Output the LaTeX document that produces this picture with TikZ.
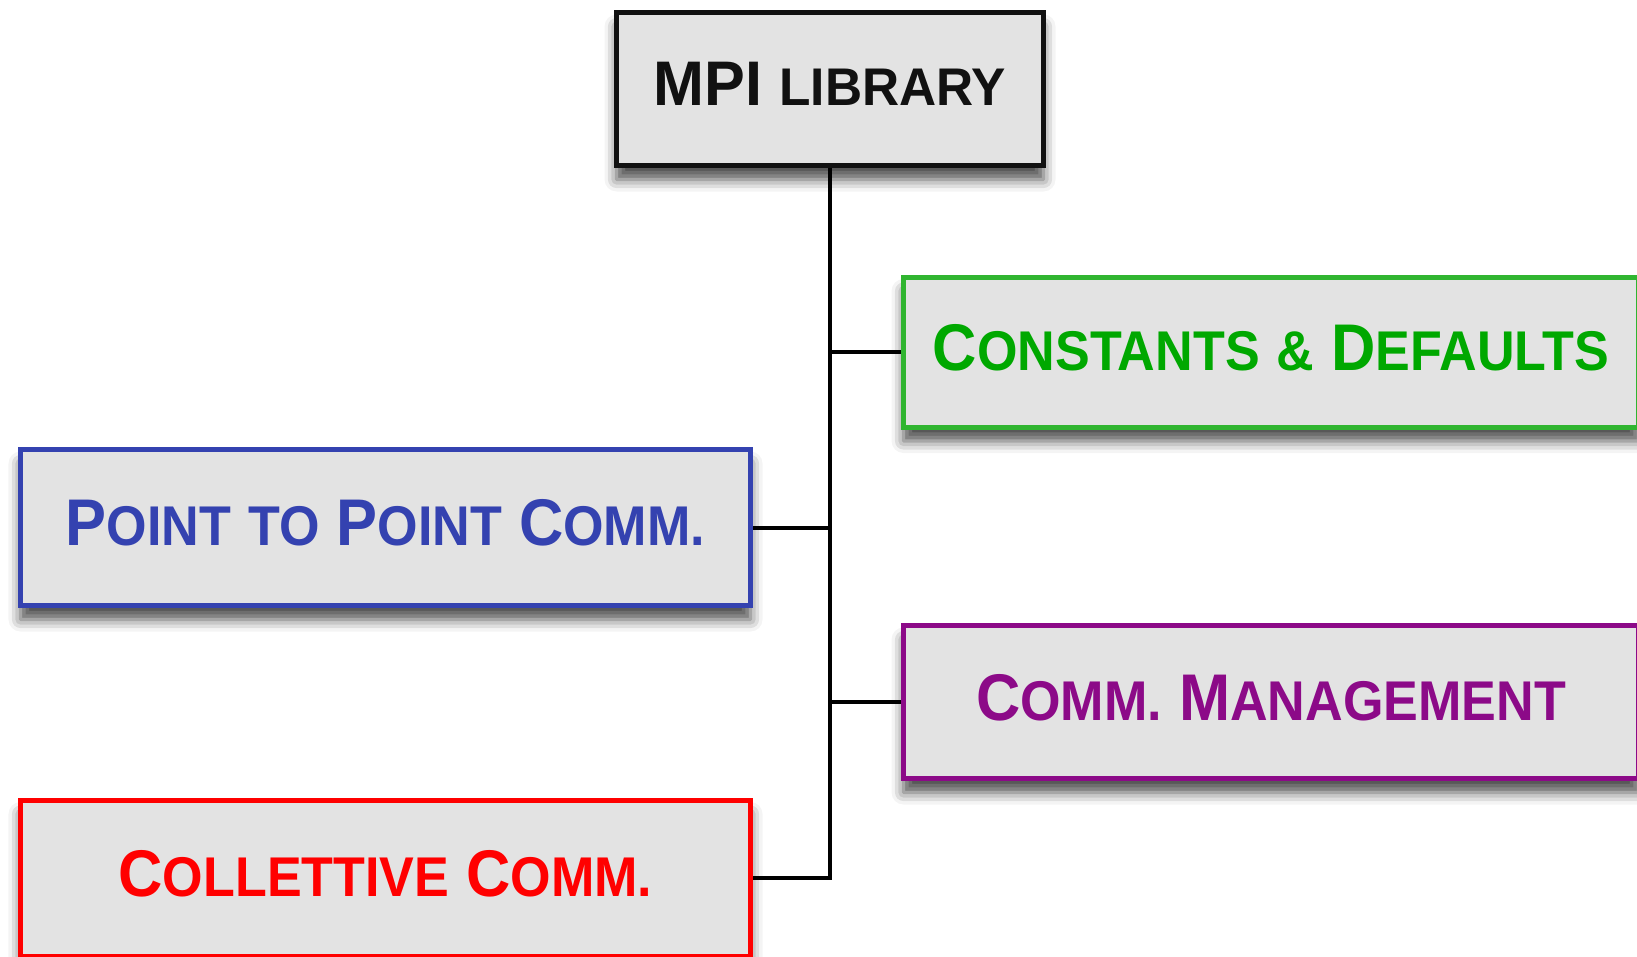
\documentclass[tikz,border=0pt]{standalone}
\usepackage{fontspec}
\newfontfamily\cpfont[FakeStretch=0.93]{Liberation Sans}
\newfontfamily\cptitle[FakeStretch=0.97]{Liberation Sans}
\usetikzlibrary{shadows.blur}
\definecolor{boxfill}{HTML}{E3E3E3}
\definecolor{libink}{HTML}{111111}
\definecolor{constink}{HTML}{00A800}
\definecolor{constline}{HTML}{30B530}
\definecolor{ptpink}{HTML}{3442B0}
\definecolor{mgmtink}{HTML}{8C0A88}
\definecolor{collink}{HTML}{FF0000}
% lower-case letters drawn as smaller capitals
\newcommand\sm[1]{{\fontsize{28}{30}\selectfont #1}}
\newcommand\smt[1]{{\fontsize{26.5}{28}\selectfont #1}}
\tikzset{
  box/.style={draw, line width=2.5pt, fill=boxfill, inner sep=0pt,
    text depth=5pt,
    blur shadow={shadow xshift=0pt, shadow yshift=-7pt,
      shadow blur radius=6pt, shadow opacity=70},
    font=\cpfont\bfseries\fontsize{33}{36}\selectfont},
  link/.style={line width=2pt, draw=black}
}
\begin{document}
\begin{tikzpicture}[x=0.5pt, y=-0.5pt]
  \useasboundingbox (0,0) rectangle (1637,957);
  \clip (0,0) rectangle (1637,957);

  \node[box, draw=libink, text=libink, minimum width=213.5pt, minimum height=76.5pt,
        font=\cptitle\bfseries\fontsize{31.5}{34}\selectfont]
    (mpi) at (830,89) {MPI \smt{LIBRARY}};

  \node[box, draw=constline, text=constink, minimum width=367.5pt, minimum height=75pt]
    (const) at (1271,352) {C\sm{ONSTANTS} \sm{\&} D\sm{EFAULTS}};

  \node[box, draw=ptpink, text=ptpink, minimum width=365pt, minimum height=78pt]
    (ptp) at (385.5,527.5) {P\sm{OINT} \sm{TO} P\sm{OINT} C\sm{OMM.}};

  \node[box, draw=mgmtink, text=mgmtink, minimum width=367.5pt, minimum height=76.5pt]
    (mgmt) at (1271,702) {C\sm{OMM.} M\sm{ANAGEMENT}};

  \node[box, draw=collink, text=collink, minimum width=365pt, minimum height=78pt]
    (coll) at (385.5,878) {C\sm{OLLETTIVE} C\sm{OMM.}};

  % trunk from the library down to the last branch
  \coordinate (bend) at (mpi.south |- coll.east);
  \draw[link] (mpi.south) -- (bend) -- (coll.east);
  \draw[link] (mpi.south |- const.west) -- (const.west);
  \draw[link] (mpi.south |- ptp.east) -- (ptp.east);
  \draw[link] (mpi.south |- mgmt.west) -- (mgmt.west);
\end{tikzpicture}
\end{document}
